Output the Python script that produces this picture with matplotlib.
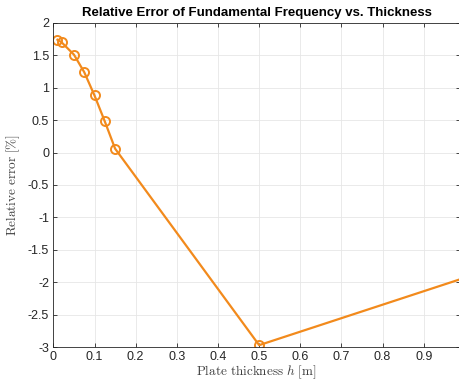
import matplotlib.pyplot as plt

# plate thickness h [m] and relative error of fundamental frequency [%]
thickness = [0.01, 0.02, 0.05, 0.075, 0.1, 0.125, 0.15, 0.5, 1.0]
rel_error = [1.74, 1.70, 1.51, 1.24, 0.88, 0.48, 0.06, -2.97, -1.93]
x_ticks = [0, 0.1, 0.2, 0.3, 0.4, 0.5, 0.6, 0.7, 0.8, 0.9]
y_ticks = [-3, -2.5, -2, -1.5, -1, -0.5, 0, 0.5, 1, 1.5, 2]

plt.rcParams['font.family'] = ['Liberation Sans', 'DejaVu Sans']
plt.rcParams['mathtext.fontset'] = 'cm'

fig = plt.figure(figsize=(4.6, 3.81), dpi=100)
ax = fig.add_axes([0.116, 0.089, 0.884, 0.851])

ax.plot(thickness, rel_error, color='#F28A1C', linewidth=1.6,
        marker='o', markersize=6.5, markerfacecolor='none',
        markeredgewidth=1.4)

ax.set_xlim(0, 0.988)
ax.set_ylim(-3, 2)
ax.set_xticks(x_ticks)
ax.set_xticklabels([f'{t:g}' for t in x_ticks])
ax.set_yticks(y_ticks)
ax.set_yticklabels([f'{t:g}' for t in y_ticks])

ax.grid(True, color='#e6e6e6', linewidth=0.6)
ax.set_axisbelow(True)
for side in ['left', 'bottom', 'top', 'right']:
    ax.spines[side].set_color('#262626')
    ax.spines[side].set_linewidth(0.6)
ax.tick_params(direction='in', length=3, width=0.6, labelsize=9,
               colors='#262626', top=True, right=True, pad=3)

ax.set_title('Relative Error of Fundamental Frequency vs. Thickness',
             fontsize=9.5, fontweight='bold', pad=5)
ax.set_xlabel(r'$\mathrm{Plate\ thickness}\ h\ \mathrm{[m]}$', fontsize=9.5,
              color='#404040', labelpad=0)
ax.set_ylabel(r'$\mathrm{Relative\ error\ [\%]}$', fontsize=9.5,
              color='#404040', labelpad=4)

fig.savefig('out.png', dpi=100)
